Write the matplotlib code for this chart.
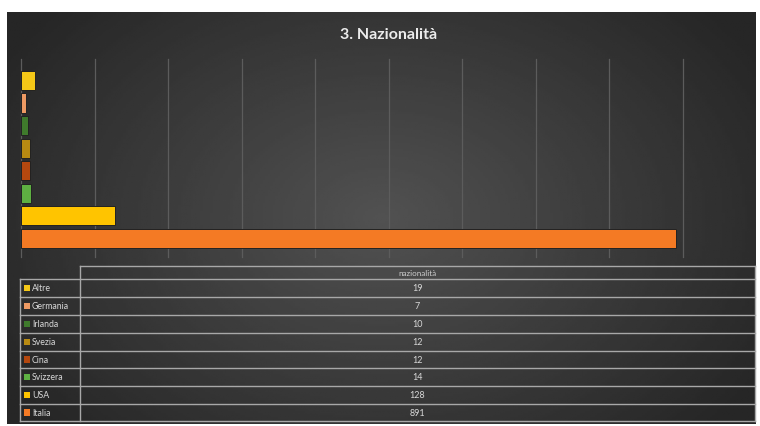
import numpy as np
import matplotlib
matplotlib.use("Agg")
import matplotlib.pyplot as plt
from matplotlib.patches import Rectangle

# data (top to bottom as in the chart)
paesi = ["Altre", "Germania", "Irlanda", "Svezia", "Cina", "Svizzera", "USA", "Italia"]
valori = [19, 7, 10, 12, 12, 14, 128, 891]
colori = ["#F5C817", "#EE9A63", "#3F7A2C", "#B88A12", "#B5480F", "#5EB042", "#FFC400", "#F47A24"]
titolo = "3. Nazionalità"
serie = "nazionalità"

W, H = 760, 427
fig = plt.figure(figsize=(W / 100, H / 100), dpi=100)
fig.patch.set_facecolor("white")

def fx(x):
    return x / W

def fy(y):
    return 1 - y / H

# dark background with soft radial gradient
bg = fig.add_axes([fx(7), fy(425), fx(756) - fx(7), fy(13) - fy(425)])
bg.set_axis_off()
gx, gy = np.meshgrid(np.linspace(-1, 1, 300), np.linspace(-1, 1, 200))
r = np.sqrt((gx * 0.9) ** 2 + (gy * 0.7) ** 2)
val = np.clip(0.32 - 0.16 * r, 0.15, 0.32)
bg.imshow(val, cmap="gray", vmin=0, vmax=1, aspect="auto", extent=[0, 1, 0, 1], zorder=0)

fig.text(fx(389), fy(35), titolo, color="#ececec", fontsize=11.5, fontweight="bold",
         family="Lato", ha="center", va="center")

# bar plot
ax = fig.add_axes([fx(21), fy(258), fx(683) - fx(21), fy(60) - fy(258)])
ax.set_facecolor("none")
n = len(paesi)
ypos = np.arange(n)[::-1]
ax.barh(ypos, valori, height=0.86, color=colori, edgecolor="#222222", linewidth=0.7, zorder=3)
ax.set_xlim(0, 900)
ax.set_ylim(-0.83, n - 1 + 0.96)
ax.set_xticks(np.arange(0, 901, 100))
ax.grid(axis="x", color="#5c5c5c", linewidth=0.9, zorder=1)
for gl in ax.get_xgridlines():
    gl.set_clip_on(False)
ax.tick_params(left=False, bottom=False, labelleft=False, labelbottom=False)
for s in ax.spines.values():
    s.set_visible(False)

# data table
tab = fig.add_axes([0, 0, 1, 1])
tab.set_xlim(0, W)
tab.set_ylim(H, 0)
tab.set_axis_off()
tab.patch.set_alpha(0)

lc = "#a8a8a8"
x0, x1, x2 = 20, 80, 755
top = 267
row_y = [280, 298, 316, 334, 352, 369, 387, 405, 422]
tab.plot([x1, x2], [top, top], color=lc, lw=1)
for yy in row_y:
    tab.plot([x0, x2], [yy, yy], color=lc, lw=1)
tab.plot([x0, x0], [row_y[0], row_y[-1]], color=lc, lw=1)
tab.plot([x1, x1], [top, row_y[-1]], color=lc, lw=1)
tab.plot([x2, x2], [top, row_y[-1]], color=lc, lw=1)

xc = (x1 + x2) / 2
tab.text(xc, (top + row_y[0]) / 2, serie, color="#cfcfcf", fontsize=5.8, family="Lato",
         ha="center", va="center")
for i in range(n):
    yc = (row_y[i] + row_y[i + 1]) / 2
    tab.add_patch(Rectangle((23.5, yc - 3.2), 6.4, 6.4, facecolor=colori[i], edgecolor="none"))
    tab.text(32, yc, paesi[i], color="#d8d8d8", fontsize=6.3, family="Lato",
             ha="left", va="center")
    tab.text(xc, yc, str(valori[i]), color="#d8d8d8", fontsize=6.5, family="Lato",
             ha="center", va="center")

fig.savefig("out.png", dpi=100)
